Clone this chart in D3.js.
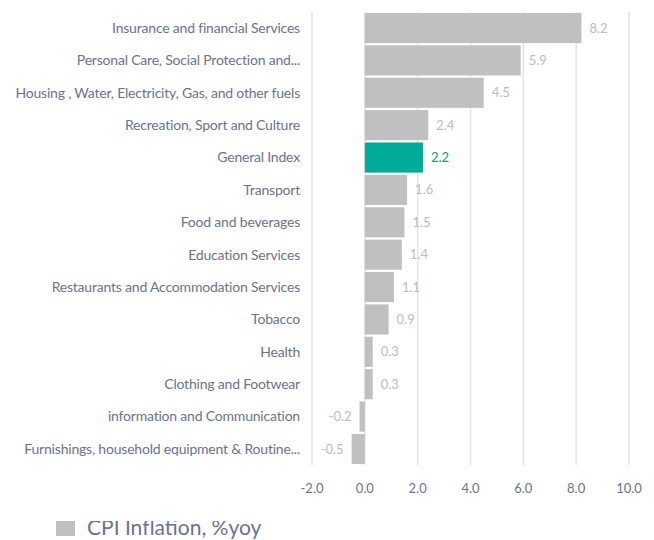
<!DOCTYPE html>
<html>
<head>
<meta charset="utf-8">
<script src="https://cdn.jsdelivr.net/npm/d3@7"></script>
<style>
  body { margin: 0; background: #fff; }
  svg { display: block; font-family: Lato, "Open Sans", sans-serif; }
</style>
</head>
<body>
<div id="chart"></div>
<script>
// categories, top to bottom
const categories = [
    "Insurance and financial Services",
    "Personal Care, Social Protection and...",
    "Housing , Water, Electricity, Gas, and other fuels",
    "Recreation, Sport and Culture",
    "General Index",
    "Transport",
    "Food and beverages",
    "Education Services",
    "Restaurants and Accommodation Services",
    "Tobacco",
    "Health",
    "Clothing and Footwear",
    "information and Communication",
    "Furnishings, household equipment & Routine..."
];
const values = [8.2, 5.9, 4.5, 2.4, 2.2, 1.6, 1.5, 1.4, 1.1, 0.9, 0.3, 0.3, -0.2, -0.5];
const xTicks = [-2, 0, 2, 4, 6, 8, 10];
const highlight = "General Index";
const seriesName = "CPI Inflation, %yoy";

const width = 654, height = 540;
const margin = {top: 12, right: 25, bottom: 75, left: 312};
const innerW = 629 - margin.left;
const innerH = 465 - margin.top;

const data = categories.map((c, i) => ({name: c, value: values[i]}));

// plain hyphen instead of unicode minus
const fmt = v => d3.format(".1f")(v).replace("\u2212", "-");

const svg = d3.select("#chart")
    .append("svg")
    .attr("width", width)
    .attr("height", height);

const g = svg.append("g")
    .attr("transform", "translate(" + margin.left + "," + margin.top + ")");

const x = d3.scaleLinear()
    .domain([-2, 10])
    .range([0, innerW]);

const y = d3.scaleBand()
    .domain(categories)
    .range([0, innerH])
    .paddingInner(0.07)
    .paddingOuter(0.03);

// vertical gridlines
g.append("g")
    .selectAll("line")
    .data(xTicks)
    .enter()
    .append("line")
    .attr("x1", d => x(d))
    .attr("x2", d => x(d))
    .attr("y1", 0)
    .attr("y2", innerH)
    .style("stroke", "#e3e3e3")
    .style("stroke-width", 1.5);

// bars
g.append("g")
    .selectAll("rect")
    .data(data)
    .enter()
    .append("rect")
    .attr("x", d => x(Math.min(0, d.value)))
    .attr("y", d => y(d.name))
    .attr("width", d => Math.abs(x(d.value) - x(0)))
    .attr("height", y.bandwidth())
    .style("fill", d => d.name === highlight ? "#00ac97" : "#c0c0c0");

// value labels
g.append("g")
    .selectAll("text")
    .data(data)
    .enter()
    .append("text")
    .attr("x", d => d.value >= 0 ? x(d.value) + 8 : x(d.value) - 8)
    .attr("y", d => y(d.name) + y.bandwidth() / 2)
    .attr("dy", "0.35em")
    .attr("text-anchor", d => d.value >= 0 ? "start" : "end")
    .style("font-size", "13px")
    .style("fill", d => d.name === highlight ? "#00a28f" : "#bdbdbd")
    .text(d => fmt(d.value));

// category labels
g.append("g")
    .selectAll("text")
    .data(data)
    .enter()
    .append("text")
    .attr("x", -12)
    .attr("y", d => y(d.name) + y.bandwidth() / 2)
    .attr("dy", "0.35em")
    .attr("text-anchor", "end")
    .style("font-size", "14px")
    .style("letter-spacing", "-0.2px")
    .style("fill", "#6b7290")
    .text(d => d.name);

// x axis labels
g.append("g")
    .selectAll("text")
    .data(xTicks)
    .enter()
    .append("text")
    .attr("x", d => x(d))
    .attr("y", innerH + 28)
    .attr("text-anchor", "middle")
    .style("font-size", "13px")
    .style("fill", "#6b7290")
    .text(d => fmt(d));

// legend, cut off at the top like the original
svg.append("clipPath")
    .attr("id", "legendClip")
    .append("rect")
    .attr("x", 0)
    .attr("y", 521)
    .attr("width", width)
    .attr("height", 25);

const legend = svg.append("g")
    .attr("clip-path", "url(#legendClip)");
legend.append("rect")
    .attr("x", 56)
    .attr("y", 517)
    .attr("width", 19)
    .attr("height", 19)
    .style("fill", "#c0c0c0");
legend.append("text")
    .attr("x", 87)
    .attr("y", 535)
    .style("font-size", "21px")
    .style("fill", "#6b7290")
    .text(seriesName);
</script>
</body>
</html>
